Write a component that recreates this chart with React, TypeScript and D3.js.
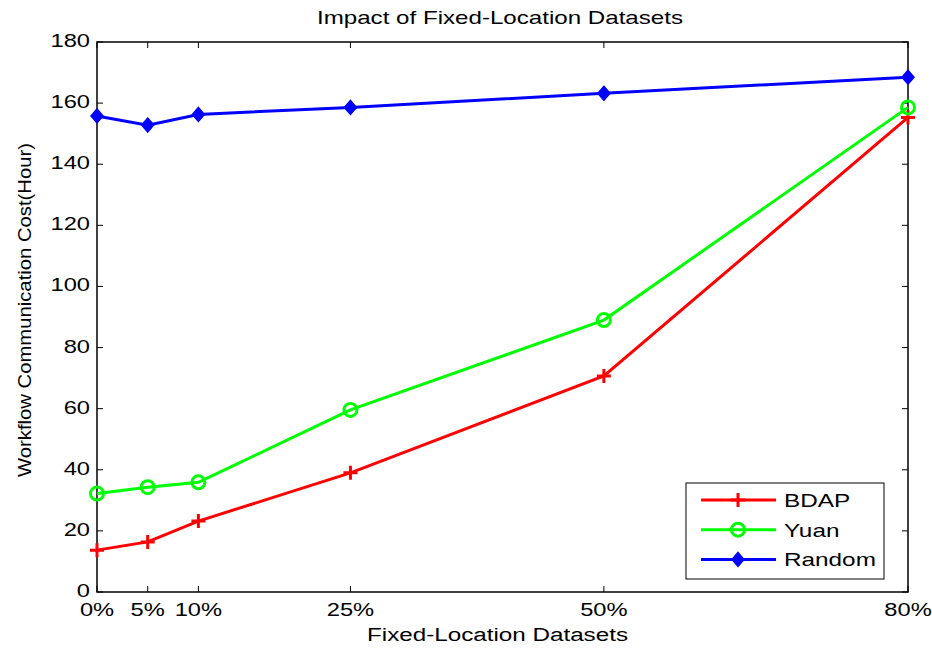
import { useEffect, useRef } from 'react'
import * as d3 from 'd3'

const fractions = [0, 5, 10, 25, 50, 80]
const tickLabels = ['0%', '5%', '10%', '25%', '50%', '80%']
const yTicks = [0, 20, 40, 60, 80, 100, 120, 140, 160, 180]

const bdap = [13.7, 16.4, 23.2, 39, 70.7, 155.3]
const yuan = [32.2, 34.3, 35.9, 59.6, 89, 158.6]
const random = [155.8, 152.8, 156.3, 158.6, 163.2, 168.5]

const seriesNames = ['BDAP', 'Yuan', 'Random']
const seriesColors = ['#ff0000', '#00ff00', '#0000ff']

export default function App() {
  const ref = useRef<SVGSVGElement>(null)

  useEffect(() => {
    const svg = d3.select(ref.current)
    svg.selectAll('*').remove()

    const width = 932
    const height = 649
    const margin = { top: 42, right: 24, bottom: 57, left: 97 }
    const font = 'Liberation Sans, Arial, sans-serif'
    const sx = 1.28 // the original picture is stretched sideways

    const x = d3.scaleLinear()
      .domain([0, 80])
      .range([margin.left, width - margin.right])

    const y = d3.scaleLinear()
      .domain([0, 180])
      .range([height - margin.bottom, margin.top])

    const [x0, x1] = x.range()
    const [yb, yt] = y.range()

    const label = (tx: number, ty: number, txt: string, size: number, anchor: string) =>
      svg.append('text')
        .attr('transform', `translate(${tx},${ty}) scale(${sx},1)`)
        .attr('text-anchor', anchor)
        .style('font-family', font).style('font-size', `${size}px`)
        .text(txt)

    // box
    svg.append('rect')
      .attr('x', x0).attr('y', yt)
      .attr('width', x1 - x0).attr('height', yb - yt)
      .attr('fill', 'white').attr('stroke', '#000').attr('stroke-width', 1.5)

    // ticks, inside on both sides
    const tl = 6
    fractions.forEach((f, i) => {
      svg.append('line').attr('x1', x(f)).attr('x2', x(f)).attr('y1', yb).attr('y2', yb - tl).attr('stroke', '#000')
      svg.append('line').attr('x1', x(f)).attr('x2', x(f)).attr('y1', yt).attr('y2', yt + tl).attr('stroke', '#000')
      label(x(f), yb + 23.5, tickLabels[i], 18.5, 'middle')
    })
    yTicks.forEach(t => {
      svg.append('line').attr('x1', x0).attr('x2', x0 + tl).attr('y1', y(t)).attr('y2', y(t)).attr('stroke', '#000')
      svg.append('line').attr('x1', x1).attr('x2', x1 - tl).attr('y1', y(t)).attr('y2', y(t)).attr('stroke', '#000')
      label(x0 - 7, y(t) + 5, String(t), 18.5, 'end')
    })

    // title and labels
    svg.append('text')
      .attr('x', 317).attr('y', 24)
      .attr('textLength', 366).attr('lengthAdjust', 'spacingAndGlyphs')
      .style('font-family', font).style('font-size', '18.5px')
      .text('Impact of Fixed-Location Datasets')

    svg.append('text')
      .attr('x', 367).attr('y', 641)
      .attr('textLength', 261).attr('lengthAdjust', 'spacingAndGlyphs')
      .style('font-family', font).style('font-size', '18px')
      .text('Fixed-Location Datasets')

    svg.append('text')
      .attr('transform', `translate(31,477) rotate(-90)`)
      .attr('textLength', 334).attr('lengthAdjust', 'spacingAndGlyphs')
      .style('font-family', font).style('font-size', '17.5px')
      .text('Workflow Communication Cost(Hour)')

    const line = d3.line<number>()
      .x((_, i) => x(fractions[i]))
      .y(d => y(d))

    const drawMarker = (g: any, kind: number, cx: number, cy: number, color: string) => {
      if (kind === 0) {
        g.append('path')
          .attr('d', `M${cx - 7},${cy}H${cx + 7}M${cx},${cy - 7}V${cy + 7}`)
          .attr('stroke', color).attr('stroke-width', 3)
      } else if (kind === 1) {
        g.append('circle').attr('cx', cx).attr('cy', cy).attr('r', 6.5)
          .attr('fill', 'none').attr('stroke', color).attr('stroke-width', 3)
      } else {
        g.append('path')
          .attr('d', `M${cx},${cy - 7}L${cx + 6},${cy}L${cx},${cy + 7}L${cx - 6},${cy}Z`)
          .attr('fill', color).attr('stroke', color).attr('stroke-width', 1.5)
      }
    }

    const allData = [bdap, yuan, random]
    allData.forEach((data, k) => {
      const g = svg.append('g')
      g.append('path')
        .datum(data)
        .attr('fill', 'none')
        .attr('stroke', seriesColors[k])
        .attr('stroke-width', 3)
        .attr('d', line)
      data.forEach((v, i) => drawMarker(g, k, x(fractions[i]), y(v), seriesColors[k]))
    })

    // legend
    const lg = svg.append('g')
    lg.append('rect')
      .attr('x', 686).attr('y', 483).attr('width', 198).attr('height', 96)
      .attr('fill', 'white').attr('stroke', '#000').attr('stroke-width', 1)
    seriesNames.forEach((name, k) => {
      const ly = 500 + k * 29.7
      lg.append('line').attr('x1', 701).attr('x2', 776).attr('y1', ly).attr('y2', ly)
        .attr('stroke', seriesColors[k]).attr('stroke-width', 3)
      drawMarker(lg, k, 738, ly, seriesColors[k])
      label(784, ly + 7, name, 19, 'start')
    })
  }, [])

  return (
    <svg
      ref={ref}
      width={932}
      height={649}
      style={{ position: 'absolute', left: 0, top: 0, background: 'white' }}
    />
  )
}
